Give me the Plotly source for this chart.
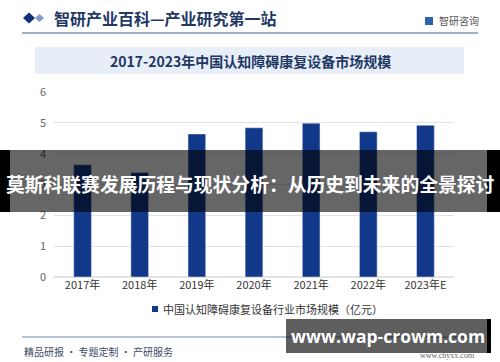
import plotly.graph_objects as go

years = ["2017年", "2018年", "2019年", "2020年", "2021年", "2022年", "2023年E"]
values = [3.64, 3.39, 4.64, 4.84, 4.99, 4.71, 4.92]
series_name = "中国认知障碍康复设备行业市场规模（亿元）"
chart_title = "2017-2023年中国认知障碍康复设备市场规模"
header_text = "智研产业百科—产业研究第一站"
banner_text = "莫斯科联赛发展历程与现状分析：从历史到未来的全景探讨"
footer_text = "精品研报 · 专题定制 · 产研服务"
site_text = "www.wap-crowm.com"
y_ticks = [0, 1, 2, 3, 4, 5, 6]

W, H = 500, 362
ML, MR, MT, MB = 54, 46, 92, 85
PW, PH = W - ML - MR, H - MT - MB
FONT = "Noto Sans CJK SC"
NAVY = "#1f3864"
BAR = "#12388a"


def px(x):
    return (x - ML) / PW


def py(y):
    return (H - MB - y) / PH


fig = go.Figure()
fig.add_trace(go.Bar(x=years, y=values, name=series_name, marker_color=BAR,
                     width=0.31, showlegend=False))

shapes = []
ann = []

# header
shapes.append(dict(type="path", xref="paper", yref="paper",
                   path=f"M {px(23)} {py(18)} L {px(29)} {py(12.5)} L {px(35)} {py(18)} L {px(29)} {py(23.5)} Z",
                   fillcolor="#0f2f7a", line=dict(width=0), layer="above"))
shapes.append(dict(type="path", xref="paper", yref="paper",
                   path=f"M {px(35)} {py(18)} L {px(39.5)} {py(14)} L {px(44)} {py(18)} L {px(39.5)} {py(22)} Z",
                   fillcolor="#7e9bd0", line=dict(width=0), layer="above"))
ann.append(dict(text=f"<b>{header_text}</b>", x=px(52), y=py(18), xanchor="left", yanchor="middle",
                font=dict(family=FONT, size=16, color=NAVY)))
shapes.append(dict(type="rect", xref="paper", yref="paper", x0=px(425), x1=px(433), y0=py(17), y1=py(25),
                   fillcolor="#2f5fae", line=dict(width=0), layer="above"))
ann.append(dict(text="智研咨询", x=px(437), y=py(21), xanchor="left", yanchor="middle",
                font=dict(family=FONT, size=10, color="#555555")))
shapes.append(dict(type="line", xref="paper", yref="paper", x0=px(22), x1=px(478), y0=py(33), y1=py(33),
                   line=dict(color="#a3b1c6", width=2)))

# title band
shapes.append(dict(type="rect", xref="paper", yref="paper", x0=px(35), x1=px(464), y0=py(47), y1=py(74),
                   fillcolor="#e7eef8", line=dict(width=0), layer="below"))
ann.append(dict(text=f"<b>{chart_title}</b>", x=px(250), y=py(61), xanchor="center", yanchor="middle",
                font=dict(family=FONT, size=14, color=NAVY)))

# legend (manual)
shapes.append(dict(type="rect", xref="paper", yref="paper", x0=px(152), x1=px(158), y0=py(306), y1=py(312),
                   fillcolor=BAR, line=dict(width=0)))
ann.append(dict(text=series_name, x=px(161), y=py(309), xanchor="left", yanchor="middle",
                font=dict(family=FONT, size=11, color="#333333")))

# footer
shapes.append(dict(type="line", xref="paper", yref="paper", x0=px(22), x1=px(478), y0=py(337), y1=py(337),
                   line=dict(color="#9fb0c8", width=1.5)))
ann.append(dict(text=footer_text, x=px(22), y=py(351), xanchor="left", yanchor="middle",
                font=dict(family=FONT, size=10, color="#3c4a66")))
ann.append(dict(text="www.chyxx.com", x=px(477), y=py(355), xanchor="right", yanchor="middle",
                font=dict(family="Liberation Serif", size=8, color="#666666")))

# overlay banner
shapes.append(dict(type="rect", xref="paper", yref="paper", x0=px(0), x1=px(10), y0=py(150), y1=py(212),
                   fillcolor="#000000", line=dict(width=0), layer="above"))
shapes.append(dict(type="rect", xref="paper", yref="paper", x0=px(487), x1=px(500), y0=py(150), y1=py(212),
                   fillcolor="#000000", line=dict(width=0), layer="above"))
shapes.append(dict(type="rect", xref="paper", yref="paper", x0=px(10), x1=px(487), y0=py(150), y1=py(212),
                   fillcolor="rgba(0,0,0,0.6)", line=dict(width=0), layer="above"))
ann.append(dict(text=f"<b>{banner_text}</b>", x=px(250), y=py(183), xanchor="center", yanchor="middle",
                font=dict(family=FONT, size=18.8, color="#ffffff")))

# bottom site box
shapes.append(dict(type="rect", xref="paper", yref="paper", x0=px(286), x1=px(487), y0=py(319), y1=py(353),
                   fillcolor="rgba(0,0,0,0.63)", line=dict(width=0), layer="above"))
shapes.append(dict(type="rect", xref="paper", yref="paper", x0=px(487), x1=px(491), y0=py(319), y1=py(353),
                   fillcolor="#000000", line=dict(width=0), layer="above"))
ann.append(dict(text=f"<b>{site_text}</b>", x=px(388), y=py(336), xanchor="center", yanchor="middle",
                font=dict(family="Open Sans", size=17.5, color="#ffffff")))

for a in ann:
    a.update(xref="paper", yref="paper", showarrow=False)

fig.update_layout(
    width=W, height=H,
    margin=dict(l=ML, r=MR, t=MT, b=MB),
    paper_bgcolor="white", plot_bgcolor="white",
    shapes=shapes, annotations=ann,
    font=dict(family=FONT),
    bargap=0.69,
)
fig.update_xaxes(showgrid=False, showline=False, ticks="",
                 tickfont=dict(family=FONT, size=11, color="#333333"))
fig.update_yaxes(range=[0, 6], tickvals=y_ticks, showgrid=True, gridcolor="#e3e3e3", gridwidth=1,
                 zeroline=True, zerolinecolor="#e3e3e3", showline=False, ticks="",
                 ticklabelstandoff=7,
                 tickfont=dict(family=FONT, size=11, color="#666666"))

fig.write_html("out.html", config={"displayModeBar": False},
               post_script="document.body.style.margin='0';document.body.style.padding='0';")
